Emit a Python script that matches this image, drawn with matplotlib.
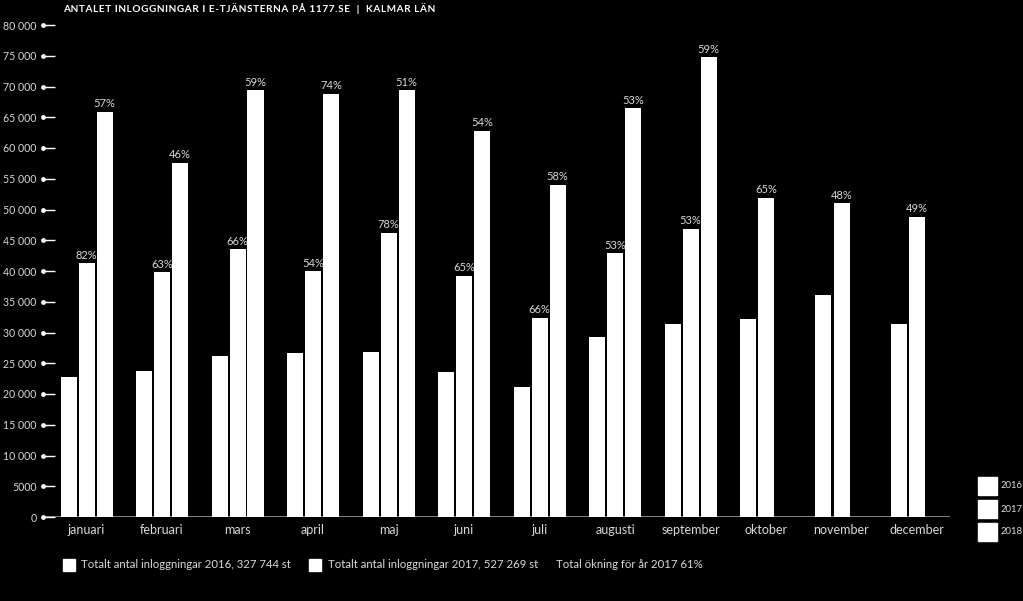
import numpy as np
import matplotlib.pyplot as plt
from matplotlib.patches import Rectangle

plt.rcParams['font.family'] = ['Lato', 'DejaVu Sans']

# ---------- data ----------
months = ["januari", "februari", "mars", "april", "maj", "juni", "juli",
          "augusti", "september", "oktober", "november", "december"]
v2016 = [22700, 23800, 26100, 26600, 26800, 23600, 21200, 29200, 31400, 32200, 36100, 31400]
v2017 = [41300, 39800, 43500, 40000, 46200, 39200, 32400, 42900, 46900, 51900, 51000, 48800]
v2018 = [65900, 57600, 69400, 68800, 69400, 62800, 54000, 66500, 74800]
pct2017 = ["82%", "63%", "66%", "54%", "78%", "65%", "66%", "53%", "53%", "65%", "48%", "49%"]
pct2018 = ["57%", "46%", "59%", "74%", "51%", "54%", "58%", "53%", "59%"]
yticks = np.arange(0, 80001, 5000)
ytick_labels = ["0", "5000"] + [f"{v//1000} 000" for v in yticks[2:]]
title = "ANTALET INLOGGNINGAR I E-TJÄNSTERNA PÅ 1177.SE  |  KALMAR LÄN"
legend_texts = ["Totalt antal inloggningar 2016, 327 744 st",
                "Totalt antal inloggningar 2017, 527 269 st",
                "Total ökning för år 2017 61%"]
years = ["2016", "2017", "2018"]

# ---------- theme ----------
BG = "black"
BAR = "white"
TXT = "#d9d9d9"
W, H = 1023, 601

fig = plt.figure(figsize=(W/100, H/100), dpi=100)
fig.patch.set_facecolor(BG)
ax = fig.add_axes([42/W, 1-517/H, (950-42)/W, (517-25)/H])
ax.set_facecolor(BG)

step = 18/75.5
bw = 16/75.5
x = np.arange(len(months))
ax.bar(x - step, v2016, width=bw, color=BAR, linewidth=0)
ax.bar(x, v2017, width=bw, color=BAR, linewidth=0)
ax.bar(x[:len(v2018)] + step, v2018, width=bw, color=BAR, linewidth=0)

for xi, v, p in zip(x, v2017, pct2017):
    ax.text(xi, v + 400, p, ha="center", va="bottom", color=TXT, fontsize=8)
for xi, v, p in zip(x, v2018, pct2018):
    ax.text(xi + step, v + 400, p, ha="center", va="bottom", color=TXT, fontsize=8)

ax.set_xlim((42-86.5)/75.5, (950-86.5)/75.5)
ax.set_ylim(0, 80000)
for sp in ax.spines.values():
    sp.set_visible(False)
ax.axhline(0, color="#9a9a9a", linewidth=1.2, zorder=0)

ax.set_yticks(yticks)
ax.set_yticklabels(ytick_labels)
ax.tick_params(axis="y", direction="in", length=9, width=1, color="white",
               labelcolor=TXT, labelsize=7.6, pad=4)
ax.scatter(np.full(len(yticks), (43-86.5)/75.5), yticks, s=6, color="white",
           clip_on=False, zorder=5)
ax.set_xticks(x)
ax.set_xticklabels(months)
ax.tick_params(axis="x", length=0, labelcolor=TXT, labelsize=9, pad=5)

# title (letter-spaced)
fig.text(63/W, 1-9/H, "\u200a".join(title), color="white", fontsize=7.2,
         fontweight="bold", va="center", ha="left",
         family=["Lato", "DejaVu Sans"])

# bottom legend
leg_y = 1-565/H
sq = 12
for xs, xt, txt in [(63, 81, legend_texts[0]), (309, 328, legend_texts[1])]:
    fig.patches.append(Rectangle((xs/W, (H-571)/H), sq/W, sq/H, color="white",
                                 transform=fig.transFigure))
    fig.text(xt/W, leg_y, txt, color=TXT, fontsize=8.2, va="center")
fig.text(556/W, leg_y, legend_texts[2], color=TXT, fontsize=8.2, va="center")

# right legend
for i, yr in enumerate(years):
    top = 477 + i*23
    fig.patches.append(Rectangle((978/W, (H-top-18)/H), 19/W, 18/H, color="white",
                                 transform=fig.transFigure))
    fig.text(1001/W, 1-(top+9)/H, yr, color=TXT, fontsize=6.8, va="center")

fig.savefig("out.png", dpi=100, facecolor=BG)
